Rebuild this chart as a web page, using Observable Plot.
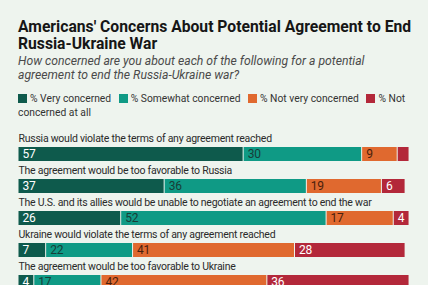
<!DOCTYPE html>
<html>
<head>
<meta charset="utf-8">
<script src="https://cdn.jsdelivr.net/npm/d3@7"></script>
<script src="https://cdn.jsdelivr.net/npm/@observablehq/plot@0.6"></script>
<style>
  html, body { margin: 0; padding: 0; background: #eef4ee; overflow: hidden; }
  body { position: relative; width: 428px; height: 285px; font-family: Roboto, "Noto Sans", sans-serif; }
  .block { position: absolute; left: 18px; }
  h1 { top: 18px; width: 400px; margin: 0; font-size: 15.7px; line-height: 17px; font-weight: 700; color: #161616; }
  .sub { top: 55px; width: 362px; font-size: 12.2px; line-height: 13.5px; font-style: italic; color: #4a4a4a; }
  .legend { top: 92px; width: 400px; font-size: 10.3px; line-height: 14px; color: #333; }
  .legend .item { margin-right: 5px; }
  .legend .sw { display: inline-block; width: 9px; height: 9px; margin-right: 3px; vertical-align: -1px; }
  #chart { position: absolute; left: 0; top: 126px; }
  #chart svg { letter-spacing: -0.25px; }
</style>
</head>
<body>
<h1 class="block">Americans' Concerns About Potential Agreement to End Russia-Ukraine War</h1>
<div class="block sub">How concerned are you about each of the following for a potential agreement to end the Russia-Ukraine war?</div>
<div class="block legend" id="legend"></div>
<div id="chart"></div>
<script>
// Survey items, top to bottom
const questions = [
  "Russia would violate the terms of any agreement reached",
  "The agreement would be too favorable to Russia",
  "The U.S. and its allies would be unable to negotiate an agreement to end the war",
  "Ukraine would violate the terms of any agreement reached",
  "The agreement would be too favorable to Ukraine"
];

// Response categories, in stacking order
const categories = ["% Very concerned", "% Somewhat concerned", "% Not very concerned", "% Not concerned at all"];
const categoryColors = ["#0e5a4c", "#0f9a85", "#e0692f", "#b3283a"];
const labelColors = ["#ffffff", "#173d37", "#4a1f0c", "#ffffff"];

// Percentages per item, one array per response category
const veryConcerned = [57, 37, 26, 7, 4];
const somewhatConcerned = [30, 36, 52, 22, 17];
const notVeryConcerned = [9, 19, 17, 41, 42];
const notConcernedAtAll = [3, 6, 4, 28, 36];

const series = [veryConcerned, somewhatConcerned, notVeryConcerned, notConcernedAtAll];
const rows = [];
questions.forEach((q, i) => {
  categories.forEach((c, j) => {
    rows.push({question: q, category: c, value: series[j][i], labelColor: labelColors[j]});
  });
});

// Legend as wrapping inline text
const legend = document.getElementById("legend");
categories.forEach((c, j) => {
  const item = document.createElement("span");
  item.className = "item";
  const sw = document.createElement("span");
  sw.className = "sw";
  sw.style.background = categoryColors[j];
  item.appendChild(sw);
  item.appendChild(document.createTextNode(c));
  legend.appendChild(item);
  legend.appendChild(document.createTextNode(" "));
});

const chart = Plot.plot({
  width: 428,
  height: 165,
  marginLeft: 18,
  marginRight: 15,
  marginTop: 21,
  marginBottom: 0,
  style: {background: "transparent", fontFamily: "Roboto, 'Noto Sans', sans-serif"},
  x: {domain: [0, 100], axis: null},
  y: {domain: questions, axis: null, paddingInner: 0.57, paddingOuter: 0, align: 0},
  color: {domain: categories, range: categoryColors},
  marks: [
    Plot.barX(rows, Plot.stackX({
      x: "value", y: "question", fill: "category", order: categories,
      insetLeft: 0.5, insetRight: 0.5
    })),
    Plot.text(rows, Plot.stackX1({
      x: "value", y: "question", order: categories,
      text: d => d.value >= 4 ? String(d.value) : "",
      fill: "labelColor", textAnchor: "start", dx: 4, fontSize: 12
    })),
    Plot.text(questions, {
      x: 0, y: d => d, text: d => d, textAnchor: "start", lineAnchor: "middle",
      dy: -15.5, fontSize: 10.5, fill: "#2b2b2b"
    })
  ]
});
document.getElementById("chart").appendChild(chart);
</script>
</body>
</html>
